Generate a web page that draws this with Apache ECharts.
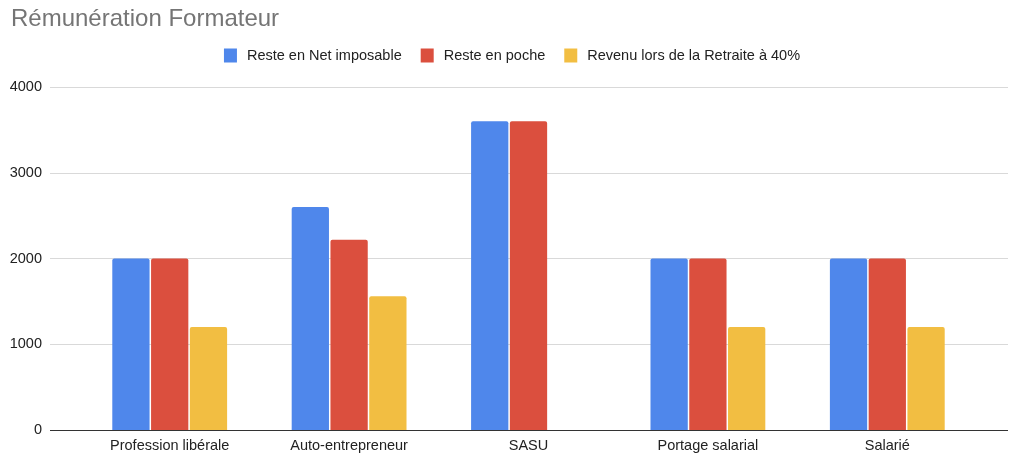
<!DOCTYPE html>
<html>
<head>
<meta charset="utf-8">
<script src="https://cdn.jsdelivr.net/npm/echarts@6/dist/echarts.min.js"></script>
<style>
html,body{margin:0;padding:0;background:#fff}
#chart{width:1024px;height:462px}
</style>
</head>
<body>
<div id="chart"></div>
<script>
var categories = ['Profession libérale', 'Auto-entrepreneur', 'SASU', 'Portage salarial', 'Salarié']
var netImposable = [2000, 2600, 3600, 2000, 2000]
var enPoche = [2000, 2220, 3600, 2000, 2000]
var retraite = [1200, 1560, null, 1200, 1200]
var seriesNames = ['Reste en Net imposable', 'Reste en poche', 'Revenu lors de la Retraite à 40%']
var colors = ['#4f87eb', '#db4f3e', '#f2be42']

var font = 'Arial, "Liberation Sans", sans-serif'
var echart = echarts.init(document.getElementById('chart'))

function bar(name, data, color) {
    return {
        name: name,
        type: 'bar',
        xAxisIndex: 1,
        yAxisIndex: 1,
        data: data,
        barCategoryGap: '36%',
        barGap: '4%',
        itemStyle: { color: color, borderRadius: [2, 2, 0, 0] }
    }
}

var chartOptions = {
    animation: false,
    color: colors,
    title: {
        text: 'Rémunération Formateur',
        left: 6,
        top: 2,
        textStyle: { fontFamily: font, fontSize: 24, fontWeight: 'normal', color: '#757575' }
    },
    legend: {
        data: seriesNames,
        left: 'center',
        top: 43,
        icon: 'rect',
        itemWidth: 13,
        itemHeight: 14,
        itemGap: 19,
        textStyle: { fontFamily: font, fontSize: 14.5, color: '#222', padding: [0, 0, 0, 5] }
    },
    grid: [
        { left: 50, right: 16, top: 87, bottom: 32 },
        { left: 80, right: 47, top: 87, bottom: 32 }
    ],
    xAxis: [
        {
            gridIndex: 0,
            type: 'value',
            min: 0,
            max: 1,
            axisLine: { show: false },
            axisTick: { show: false },
            axisLabel: { show: false },
            splitLine: { show: false }
        },
        {
            gridIndex: 1,
            type: 'category',
            data: categories,
            axisLine: { show: false },
            axisTick: { show: false },
            axisLabel: { fontFamily: font, fontSize: 14.5, color: '#222', margin: 8 }
        }
    ],
    yAxis: [
        {
            gridIndex: 0,
            type: 'value',
            min: 0,
            max: 4000,
            interval: 1000,
            axisLine: { show: false },
            axisTick: { show: false },
            axisLabel: {
                fontFamily: font, fontSize: 14.5, color: '#222', margin: 8,
                formatter: function (v) { return String(v) }
            },
            splitLine: { lineStyle: { color: '#d9d9d9' } }
        },
        {
            gridIndex: 1,
            type: 'value',
            min: 0,
            max: 4000,
            interval: 1000,
            show: false,
            splitLine: { show: false }
        }
    ],
    series: [
        bar(seriesNames[0], netImposable, colors[0]),
        bar(seriesNames[1], enPoche, colors[1]),
        bar(seriesNames[2], retraite, colors[2]),
        {
            type: 'line',
            xAxisIndex: 0,
            yAxisIndex: 0,
            silent: true,
            symbol: 'none',
            data: [],
            markLine: {
                silent: true,
                symbol: 'none',
                label: { show: false },
                lineStyle: { color: '#333', width: 1, type: 'solid' },
                data: [{ yAxis: 0 }]
            }
        }
    ]
}
echart.setOption(chartOptions)
</script>
</body>
</html>
